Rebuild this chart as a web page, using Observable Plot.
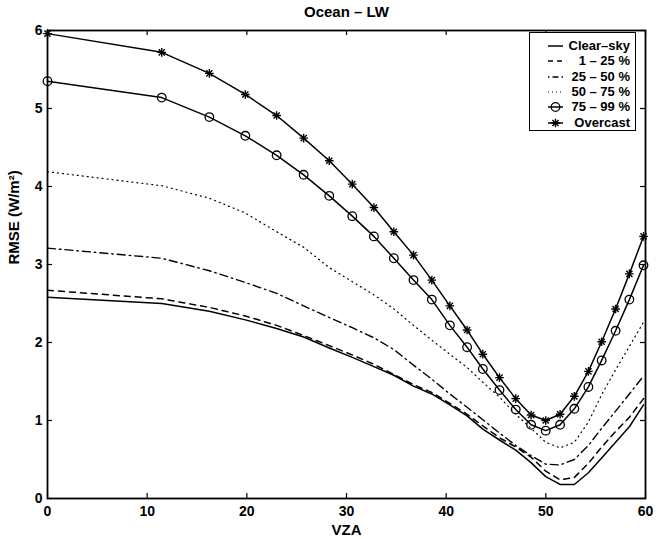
<!DOCTYPE html>
<html><head><meta charset="utf-8">
<script src="https://cdn.jsdelivr.net/npm/d3@7"></script>
<script src="https://cdn.jsdelivr.net/npm/@observablehq/plot@0.6"></script>
<style>
body{margin:0;background:#fff;font-family:"Liberation Sans",Arial,sans-serif;}
#chart{position:relative;width:669px;height:539px;}
#legend{position:absolute;left:529px;top:32px;width:105px;height:97px;border:1.6px solid #000;background:#fff;box-sizing:content-box;}
#legend .row{position:absolute;left:0;width:105px;height:14px;}
#legend svg{position:absolute;left:12px;top:0;}
#legend span{position:absolute;right:5px;top:0;font-weight:bold;font-size:13px;line-height:14px;white-space:nowrap;}
</style></head><body><div id="chart"><div id="legend"></div></div>
<script>
const vza = [0, 11.46, 16.24, 19.85, 22.99, 25.7, 28.27, 30.58, 32.75, 34.75, 36.72, 38.56, 40.37, 42.1, 43.68, 45.35, 46.98, 48.52, 49.99, 51.43, 52.86, 54.27, 55.6, 57.0, 58.38, 59.8];
const clearSky = [2.58, 2.50, 2.40, 2.29, 2.18, 2.07, 1.93, 1.81, 1.69, 1.58, 1.44, 1.34, 1.20, 1.06, 0.89, 0.75, 0.62, 0.46, 0.28, 0.18, 0.18, 0.33, 0.52, 0.72, 0.92, 1.20];
const cloud1to25 = [2.67, 2.56, 2.45, 2.34, 2.22, 2.09, 1.96, 1.84, 1.72, 1.59, 1.46, 1.36, 1.22, 1.08, 0.93, 0.78, 0.66, 0.53, 0.35, 0.24, 0.27, 0.45, 0.66, 0.86, 1.04, 1.28];
const cloud25to50 = [3.21, 3.08, 2.92, 2.77, 2.63, 2.47, 2.32, 2.19, 2.06, 1.91, 1.71, 1.53, 1.34, 1.17, 1.01, 0.84, 0.68, 0.55, 0.44, 0.43, 0.50, 0.68, 0.90, 1.12, 1.34, 1.57];
const cloud50to75 = [4.19, 4.01, 3.85, 3.66, 3.42, 3.22, 2.96, 2.78, 2.61, 2.43, 2.22, 2.03, 1.85, 1.68, 1.49, 1.30, 1.08, 0.90, 0.72, 0.65, 0.72, 0.98, 1.33, 1.65, 1.95, 2.26];
const cloud75to99 = [5.35, 5.14, 4.89, 4.65, 4.40, 4.15, 3.88, 3.62, 3.36, 3.08, 2.80, 2.55, 2.22, 1.94, 1.66, 1.39, 1.14, 0.945, 0.87, 0.945, 1.15, 1.43, 1.77, 2.15, 2.55, 2.99];
const overcast = [5.96, 5.72, 5.45, 5.18, 4.91, 4.62, 4.33, 4.03, 3.73, 3.42, 3.12, 2.80, 2.47, 2.16, 1.85, 1.55, 1.28, 1.07, 1.00, 1.08, 1.31, 1.63, 2.01, 2.43, 2.88, 3.36];
const seriesNames = ["Clear\u2013sky", "1 \u2013 25 %", "25 \u2013 50 %", "50 \u2013 75 %", "75 \u2013 99 %", "Overcast"];
const xTicks = [0, 10, 20, 30, 40, 50, 60];
const yTicks = [0, 1, 2, 3, 4, 5, 6];
const titleText = "Ocean \u2013 LW";
const xLabel = "VZA";
const yLabel = "RMSE (W/m\u00B2)";

const seriesValues = [clearSky, cloud1to25, cloud25to50, cloud50to75, cloud75to99, overcast];
const dashes = [null, "6,5", "8,4,1.5,4", "1,4", null, null];
const widths = [1.5, 1.5, 1.4, 1.2, 1.5, 1.5];
const markers = [null, null, null, null, "circle", "asterisk"];

const W = 669, H = 539, mL = 47, mR = 24, mT = 30, mB = 41;
const fw = W - mL - mR, fh = H - mT - mB, tl = 5;
const xMax = 60, yMax = 6;
const tx = tl / fw * xMax, ty = tl / fh * yMax; // inward tick length in data units

const series = seriesValues.map((vals, k) => vals.map((v, i) => ({series: seriesNames[k], x: vza[i], y: v})));

const marks = [];
series.forEach((rows, k) => {
  marks.push(Plot.line(rows, {x: "x", y: "y", stroke: "black", strokeWidth: widths[k], strokeDasharray: dashes[k] || undefined, strokeLinejoin: "round"}));
  if (markers[k] === "circle") {
    marks.push(Plot.dot(rows, {x: "x", y: "y", r: 4.3, stroke: "black", strokeWidth: 1.3, fill: "none"}));
  } else if (markers[k] === "asterisk") {
    marks.push(Plot.dot(rows, {x: "x", y: "y", r: 2.9, symbol: "plus", stroke: "black", strokeWidth: 1.4}));
    marks.push(Plot.dot(rows, {x: "x", y: "y", r: 2.9, symbol: "times", stroke: "black", strokeWidth: 1.4}));
  }
});

const chart = Plot.plot({
  width: W,
  height: H,
  marginLeft: mL,
  marginRight: mR,
  marginTop: mT,
  marginBottom: mB,
  style: {fontFamily: "'Liberation Sans', Arial, sans-serif", fontSize: "14px", fontWeight: "bold", color: "black", background: "white"},
  x: {domain: [0, xMax], label: null},
  y: {domain: [0, yMax], label: null},
  marks: [
    Plot.axisX(xTicks, {anchor: "bottom", tickSize: 0, tickPadding: 8, label: null, fontSize: 14, fontWeight: "bold", tickFormat: "d"}),
    Plot.axisY(yTicks, {anchor: "left", tickSize: 0, tickPadding: 5, label: null, fontSize: 14, fontWeight: "bold", tickFormat: "d"}),
    Plot.ruleX(xTicks, {x: d => d, y1: 0, y2: ty, stroke: "black", strokeWidth: 1.2}),
    Plot.ruleX(xTicks, {x: d => d, y1: yMax - ty, y2: yMax, stroke: "black", strokeWidth: 1.2}),
    Plot.ruleY(yTicks, {y: d => d, x1: 0, x2: tx, stroke: "black", strokeWidth: 1.2}),
    Plot.ruleY(yTicks, {y: d => d, x1: xMax - tx, x2: xMax, stroke: "black", strokeWidth: 1.2}),
    ...marks,
    Plot.frame({stroke: "black", strokeWidth: 1.8}),
    Plot.text([titleText], {text: d => d, frameAnchor: "top", dy: -24, fontSize: 15, fontWeight: "bold"}),
    Plot.text([xLabel], {text: d => d, frameAnchor: "bottom", dy: 36, fontSize: 15, fontWeight: "bold"}),
    Plot.text([yLabel], {text: d => d, frameAnchor: "left", dx: -33, rotate: -90, fontSize: 15, fontWeight: "bold"})
  ]
});
document.getElementById("chart").prepend(chart);

// legend
const legend = d3.select("#legend");
seriesNames.forEach((name, k) => {
  const row = legend.append("div").attr("class", "row").style("top", (6 + k * 15.3) + "px");
  const svg = row.append("svg").attr("width", 30).attr("height", 14);
  svg.append("line").attr("x1", 6).attr("x2", 21).attr("y1", 7).attr("y2", 7)
    .attr("stroke", "black").attr("stroke-width", widths[k])
    .attr("stroke-dasharray", k === 1 ? "5,4" : k === 2 ? "1.5,3,6,3" : k === 3 ? "1,3" : null);
  if (markers[k] === "circle") svg.append("circle").attr("cx", 13.5).attr("cy", 7).attr("r", 4.3).attr("fill", "none").attr("stroke", "black").attr("stroke-width", 1.3);
  if (markers[k] === "asterisk") {
    const a = Math.PI * 2.9 * 2.9;
    svg.append("path").attr("d", d3.symbol(d3.symbolPlus, a)()).attr("transform", "translate(13.5,7)").attr("stroke", "black").attr("stroke-width", 1.4);
    svg.append("path").attr("d", d3.symbol(d3.symbolTimes, a)()).attr("transform", "translate(13.5,7)").attr("stroke", "black").attr("stroke-width", 1.4);
  }
  row.append("span").text(name);
});
</script></body></html>
